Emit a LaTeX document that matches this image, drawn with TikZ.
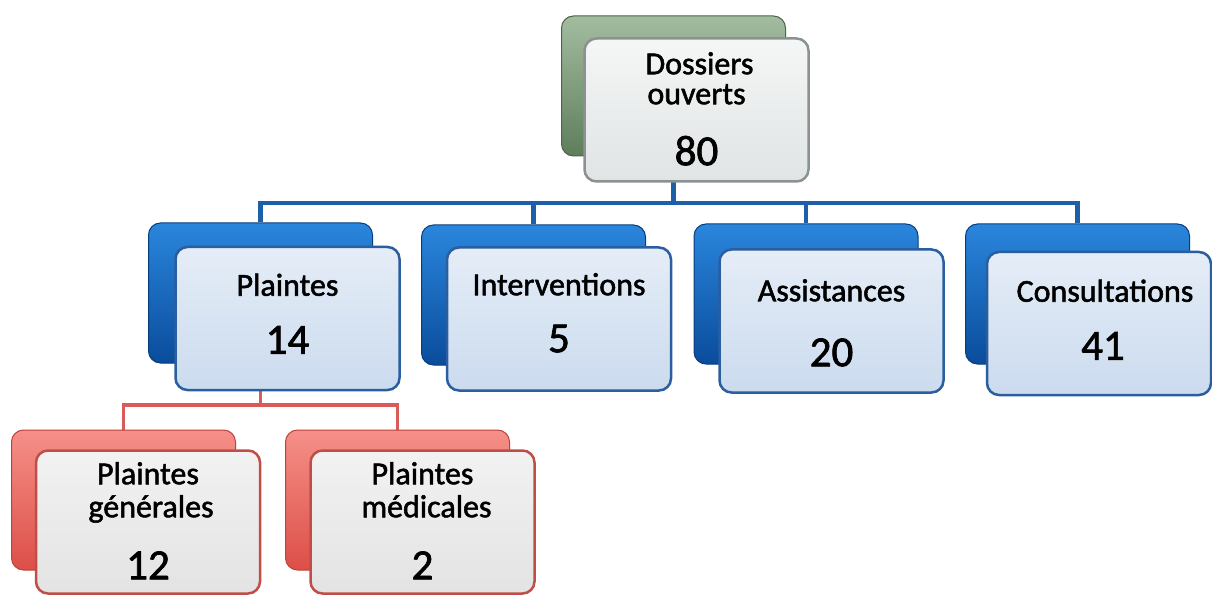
\documentclass[tikz,border=0pt]{standalone}
\usepackage{fontspec}
\setmainfont{Carlito}[FakeBold=1.6]
\usetikzlibrary{backgrounds}
\definecolor{grtop}{HTML}{A3BCA0}
\definecolor{grbot}{HTML}{5E7E5B}
\definecolor{bltop}{HTML}{2A86DC}
\definecolor{blbot}{HTML}{0A4C9C}
\definecolor{rdtop}{HTML}{F59088}
\definecolor{rdbot}{HTML}{DC4F48}
\definecolor{tftop}{HTML}{F5F6F6}
\definecolor{tfbot}{HTML}{E0E4E4}
\definecolor{tfline}{HTML}{8A9292}
\definecolor{bftop}{HTML}{E5EDF7}
\definecolor{bfbot}{HTML}{CBDBEE}
\definecolor{bfline}{HTML}{2A5E9E}
\definecolor{rftop}{HTML}{F2F2F2}
\definecolor{rfbot}{HTML}{E3E3E3}
\definecolor{rfline}{HTML}{C04E48}
\definecolor{linkblue}{HTML}{1E5FAA}
\definecolor{linkred}{HTML}{DA5A5A}
\begin{document}
\begin{tikzpicture}[x=1pt,y=1pt,
  backbox/.style={rounded corners=12pt, minimum width=224pt, minimum height=140pt, inner sep=0pt, line width=1pt},
  greenback/.style={backbox, top color=grtop, bottom color=grbot, draw=grbot!80!black},
  blueback/.style={backbox, top color=bltop, bottom color=blbot, draw=blbot!80!black},
  redback/.style={backbox, top color=rdtop, bottom color=rdbot, draw=rdbot!85!black},
  frontbox/.style={rounded corners=12pt, minimum width=224pt, minimum height=143pt, inner sep=0pt, line width=2.5pt},
  topfront/.style={frontbox, top color=tftop, bottom color=tfbot, draw=tfline},
  bluefront/.style={frontbox, top color=bftop, bottom color=bfbot, draw=bfline},
  redfront/.style={frontbox, top color=rftop, bottom color=rfbot, draw=rfline},
  lab/.style={anchor=base, font=\fontsize{32}{38}\selectfont, inner sep=0pt},
  num/.style={anchor=base, font=\fontsize{43}{50}\selectfont, inner sep=0pt},
  bluelink/.style={draw=linkblue, line width=4.5pt},
  redlink/.style={draw=linkred, line width=3.5pt}]
\useasboundingbox (0,0) rectangle (1212,595);
% top
\node[greenback] (topb) at (673.5,509) {};
\node[topfront] (topf) at (696.5,485) {};
\node[lab] (t1) at ([xshift=3pt,yshift=-37pt]topf.north) {Dossiers};
\node[lab] (t2) at ([yshift=-67pt]topf.north) {ouverts};
\node[num] (t3) at ([yshift=-128pt]topf.north) {80};
% Plaintes
\node[blueback] (plb) at (260.5,302) {};
\node[bluefront] (plf) at (287.5,276.5) {};
\node[lab] (p1) at ([yshift=-50pt]plf.north) {Plaintes};
\node[num] (p2) at ([yshift=-108pt]plf.north) {14};
% Interventions
\node[blueback] (inb) at (533.5,300) {};
\node[bluefront] (inf) at (559,276) {};
\node[lab] (i1) at ([yshift=-49pt]inf.north) {Interventions};
\node[num] (i2) at ([yshift=-106pt]inf.north) {5};
% Assistances
\node[blueback] (asb) at (806,301) {};
\node[bluefront] (asf) at (831.5,274) {};
\node[lab] (a1) at ([yshift=-53pt]asf.north) {Assistances};
\node[num] (a2) at ([yshift=-118pt]asf.north) {20};
% Consultations
\node[blueback] (cob) at (1077.5,301) {};
\node[bluefront] (cof) at (1099,271.5) {};
\node[lab] (c1) at ([xshift=6pt,yshift=-51pt]cof.north) {Consultations};
\node[num] (c2) at ([xshift=4pt,yshift=-109pt]cof.north) {41};
% red
\node[redback] (r1b) at (123.5,95) {};
\node[redfront] (r1f) at (148,73) {};
\node[lab] (g1) at ([yshift=-35pt]r1f.north) {Plaintes};
\node[lab] (g2) at ([xshift=3pt,yshift=-68pt]r1f.north) {générales};
\node[num] (g3) at ([yshift=-130pt]r1f.north) {12};
\node[redback] (r2b) at (397.5,95) {};
\node[redfront] (r2f) at (422.5,73) {};
\node[lab] (m1) at ([yshift=-35pt]r2f.north) {Plaintes};
\node[lab] (m2) at ([xshift=4pt,yshift=-68pt]r2f.north) {médicales};
\node[num] (m3) at ([yshift=-130pt]r2f.north) {2};
% connectors
\coordinate (busA) at (0,392);
\coordinate (busB) at (0,190);
\begin{scope}[on background layer]
\draw[bluelink] (topb.south) -- (topb.south |- busA) -| (plb.north);
\draw[bluelink] (topb.south) -- (topb.south |- busA) -| (inb.north);
\draw[bluelink] (topb.south) -- (topb.south |- busA) -| (asb.north);
\draw[bluelink] (topb.south) -- (topb.south |- busA) -| (cob.north);
\draw[redlink] (plb.south) -- (plb.south |- busB) -| (r1b.north);
\draw[redlink] (plb.south) -- (plb.south |- busB) -| (r2b.north);
\end{scope}
\end{tikzpicture}
\end{document}
